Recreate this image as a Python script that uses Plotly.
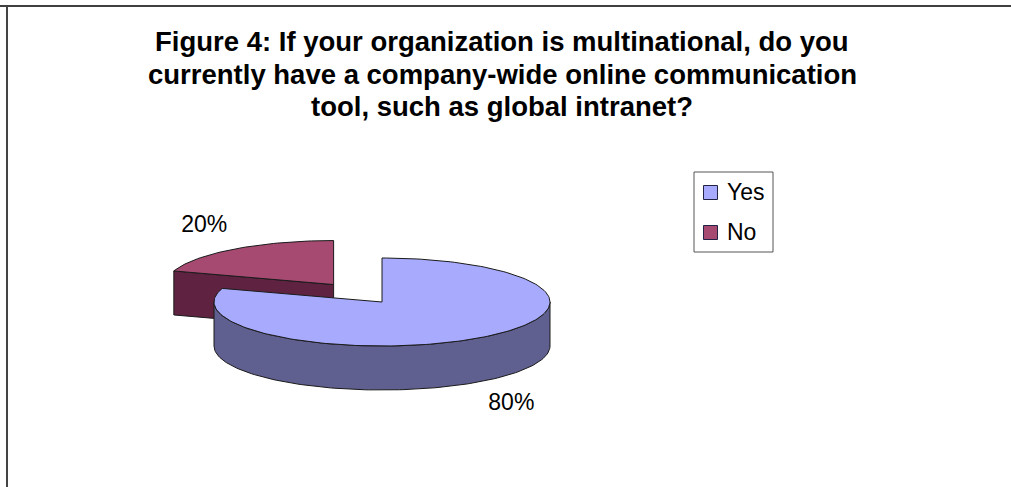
import math
import plotly.graph_objects as go

# ---- data ----
labels = ["Yes", "No"]
values = [80, 20]
title_lines = [
    "Figure 4: If your organization is multinational, do you",
    "currently have a company-wide online communication",
    "tool, such as global intranet?",
]

# ---- styling / layout ----
W, H = 1011, 487
FONT = "Arial, 'Liberation Sans', sans-serif"
top_colors = ["#A8ABFD", "#A74A72"]
side_colors = ["#5F5F90", "#5F2341"]
explode = [0.0, 0.49]
CX, CY = 382, 302          # pie centre on screen (px)
RX, RY = 168, 44           # ellipse radii of the tilted disc
DEPTH = 44                 # thickness of the disc
START = 90.0               # first slice starts at 12 o'clock, clockwise

total = sum(values)


def pt(cx, cy, t, dy=0.0):
    r = math.radians(t)
    return cx + RX * math.cos(r), cy - RY * math.sin(r) + dy


def arc(cx, cy, t0, t1, dy=0.0, n=None):
    n = n or max(2, int(abs(t1 - t0) / 1.5) + 1)
    return [pt(cx, cy, t0 + (t1 - t0) * i / (n - 1), dy) for i in range(n)]


def front_part(t_hi, t_lo):
    """Portion of the clockwise arc t_hi -> t_lo that faces the viewer."""
    parts = []
    k0 = math.floor(t_lo / 360.0) - 1
    for k in range(k0, k0 + 4):
        a, b = 180 + 360 * k, 360 + 360 * k
        lo, hi = max(a, t_lo), min(b, t_hi)
        if hi > lo:
            parts.append((hi, lo))
    return parts


slices = []
cum = 0.0
for i, v in enumerate(values):
    t0 = START - 360.0 * cum / total
    cum += v
    t1 = START - 360.0 * cum / total
    mid = (t0 + t1) / 2
    mr = math.radians(mid)
    cx = CX + explode[i] * RX * math.cos(mr)
    cy = CY - explode[i] * RY * math.sin(mr)
    slices.append(dict(i=i, t0=t0, t1=t1, mid=mid, cx=cx, cy=cy))

fig = go.Figure()


def poly(points, fill, line="#1a1a1a", width=1):
    xs = [p[0] for p in points] + [points[0][0]]
    ys = [p[1] for p in points] + [points[0][1]]
    fig.add_trace(go.Scatter(
        x=xs, y=ys, mode="lines", fill="toself", fillcolor=fill,
        line=dict(color=line, width=width), hoverinfo="skip", showlegend=False,
    ))


# paint slices from back to front
for s in sorted(slices, key=lambda d: d["cy"]):
    i, cx, cy, t0, t1 = s["i"], s["cx"], s["cy"], s["t0"], s["t1"]
    # radial cut faces
    for t, sign in ((t0, 1), (t1, -1)):
        r = math.radians(t)
        ny = sign * math.cos(r)
        if ny < -1e-6:
            p = pt(cx, cy, t)
            poly([(cx, cy), p, (p[0], p[1] + DEPTH), (cx, cy + DEPTH)], side_colors[i])
    # curved outer wall
    for hi, lo in front_part(t0, t1):
        top = arc(cx, cy, hi, lo)
        bot = arc(cx, cy, lo, hi, DEPTH)
        poly(top + bot, side_colors[i])
    # top face
    poly([(cx, cy)] + arc(cx, cy, t0, t1), top_colors[i])

# percentage labels outside each slice
lx, ly, lt = [], [], []
for s in slices:
    r = math.radians(s["mid"])
    x = s["cx"] + RX * 1.31 * math.cos(r)
    y = s["cy"] - RY * 1.64 * math.sin(r) + (DEPTH if math.sin(r) < 0 else 0)
    lx.append(x)
    ly.append(y)
    lt.append(f"{round(100 * values[s['i']] / total)}%")
fig.add_trace(go.Scatter(
    x=lx, y=ly, mode="text", text=lt, textposition="middle center",
    textfont=dict(family=FONT, size=23, color="#000000"),
    hoverinfo="skip", showlegend=False,
))

# legend
LEG_X, LEG_Y0, LEG_DY = 710.5, 192.5, 40
fig.add_trace(go.Scatter(
    x=[LEG_X] * len(labels), y=[LEG_Y0 + LEG_DY * k for k in range(len(labels))],
    mode="markers",
    marker=dict(symbol="square", size=14, color=top_colors,
                line=dict(color="#222244", width=1)),
    hoverinfo="skip", showlegend=False,
))
for k, name in enumerate(labels):
    fig.add_annotation(
        x=LEG_X + 14, y=LEG_Y0 + LEG_DY * k - 1, text=name, showarrow=False,
        xanchor="left", yanchor="middle",
        font=dict(family=FONT, size=23, color="#000000"),
    )
fig.add_shape(type="rect", x0=694, x1=773, y0=172, y1=252,
              line=dict(color="#555555", width=1))

# title
for k, line in enumerate(title_lines):
    fig.add_annotation(
        x=502, y=41.5 + 32.5 * k, text=f"<b>{line}</b>", showarrow=False,
        xanchor="center", yanchor="middle",
        font=dict(family=FONT, size=27.5, color="#000000"),
    )

# chart-area border (runs off the right and bottom edges)
fig.add_shape(type="line", x0=0, x1=W + 10, y0=6, y1=6,
              line=dict(color="#000000", width=1.5))
fig.add_shape(type="line", x0=7, x1=7, y0=6, y1=H + 10,
              line=dict(color="#444444", width=2))

fig.update_layout(
    width=W, height=H,
    margin=dict(l=0, r=0, t=0, b=0),
    paper_bgcolor="#ffffff", plot_bgcolor="#ffffff",
    xaxis=dict(range=[0, W], visible=False, fixedrange=True),
    yaxis=dict(range=[H, 0], visible=False, fixedrange=True),
    showlegend=False,
)

fig.write_html("out.html")
